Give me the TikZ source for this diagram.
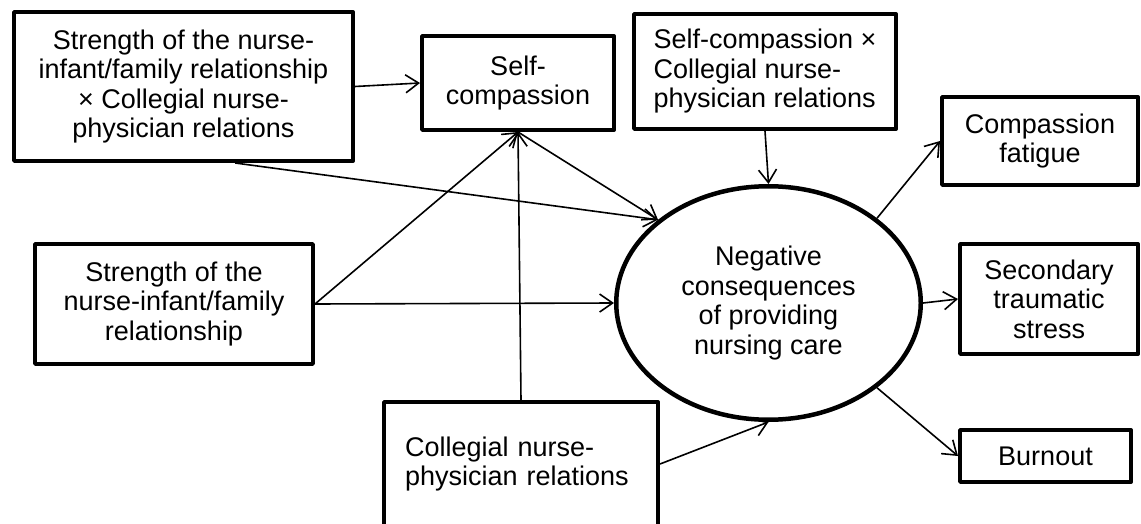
\documentclass[tikz,border=0pt]{standalone}
\usepackage{fontspec}
\setmainfont{Liberation Sans}
\usetikzlibrary{arrows.meta,shapes.geometric}
\begin{document}
\begin{tikzpicture}[x=1pt,y=-1pt,
  txt/.style={font=\fontsize{27}{29.5}\selectfont},
  box/.style={draw, line width=4.2pt, line join=round, inner sep=0pt, align=center, txt},
  lbox/.style={box, align=left},
  arr/.style={-{Straight Barb[length=13pt,width=18pt,line width=1.6pt]}, line width=1.6pt}]
\useasboundingbox (0,0) rectangle (1141,524);

\node[box, minimum width=338.8pt, minimum height=148.8pt] (A) at (183.5,86.5)
  {Strength of the nurse-\\infant/family relationship\\× Collegial nurse-\\physician relations};
\node[box, minimum width=191.8pt, minimum height=93.8pt] (SC) at (518,83)
  {Self-\\compassion};
\node[lbox, minimum width=261.8pt, minimum height=114.8pt] (SCC) at (765,71.5)
  {Self-compassion ×\\Collegial nurse-\\physician relations};
\node[box, minimum width=277.8pt, minimum height=119.8pt] (St) at (174,304)
  {Strength of the\\nurse-infant/family\\relationship};
\node[lbox, inner xsep=21pt, text width=231.8pt, minimum width=273.8pt, minimum height=123.8pt] (Col) at (521,464)
  {Collegial nurse-\\physician relations};
\node[draw, ellipse, line width=4.5pt, minimum width=304.5pt, minimum height=233.5pt, inner sep=0pt, align=center, txt] (E) at (768.5,303)
  {Negative\\consequences\\of providing\\nursing care};
\node[box, minimum width=195.8pt, minimum height=87.8pt] (CF) at (1040,141)
  {Compassion\\fatigue};
\node[box, minimum width=177.8pt, minimum height=109.8pt] (Sec) at (1049,299)
  {Secondary\\traumatic\\stress};
\node[box, minimum width=170.8pt, minimum height=51.8pt] (Bo) at (1045.5,456)
  {Burnout};

\draw[arr] (A.east) -- (SC.west);
\draw[arr] (A.-56) -- (E.143);
\draw[arr] (St.east) -- (SC.south);
\draw[arr] (St.east) -- (E.west);
\draw[arr] (Col.north) -- (SC.south);
\draw[arr] (SC.south) -- (E.143);
\draw[arr] (SCC.south) -- (E.north);
\draw[arr] (Col.east) -- (E.south);
\draw[arr] (E.38) -- (CF.west);
\draw[arr] (E.east) -- (Sec.west);
\draw[arr] (E.-38) -- (Bo.west);
\end{tikzpicture}
\end{document}
